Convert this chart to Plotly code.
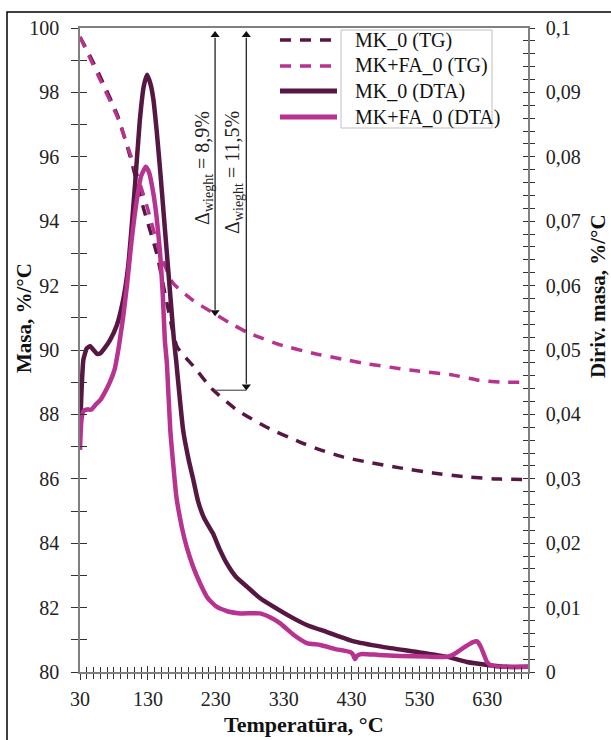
import plotly.graph_objects as go

# ---------------- data ----------------
temp_tg_mk0 = [30, 45, 60, 85, 104, 123, 143, 158, 173, 197, 225, 261, 305, 354, 384, 417, 453, 501, 550, 600, 649, 690]
tg_mk0 = [99.72, 99.12, 98.48, 97.3, 96.0, 94.44, 93.0, 91.46, 90.1, 89.5, 88.78, 88.14, 87.6, 87.14, 86.9, 86.68, 86.52, 86.34, 86.18, 86.06, 85.99, 85.98]

temp_tg_mkfa = [30, 45, 60, 85, 107, 129, 148, 167, 196, 226, 250, 276, 300, 325, 373, 423, 453, 516, 580, 615, 650, 690]
tg_mkfa = [99.72, 99.05, 98.38, 97.24, 95.9, 94.44, 93.0, 92.08, 91.55, 91.15, 90.85, 90.55, 90.35, 90.16, 89.9, 89.69, 89.57, 89.38, 89.22, 89.07, 89.0, 89.0]

temp_dta_mk0 = [30, 32, 35, 40, 45, 50, 55, 60, 66, 74, 84, 94, 101, 106, 111, 118, 124, 129, 134, 138, 143, 148, 153, 158,
                163, 168, 172, 177, 182, 190, 197, 204, 212, 219, 226, 236, 246, 260, 276, 295, 315, 340, 364, 394,
                432, 476, 527, 571, 600, 630, 659, 690]
dta_mk0 = [0.0375, 0.043, 0.0485, 0.05025, 0.0506, 0.05, 0.0494, 0.0495, 0.05025, 0.0515, 0.05375, 0.058, 0.063, 0.069,
           0.0755, 0.0855, 0.091, 0.09275, 0.09125, 0.089, 0.084, 0.078, 0.0715, 0.065, 0.0585, 0.052, 0.048, 0.0425,
           0.0375, 0.033, 0.0298, 0.0265, 0.0241, 0.02275, 0.0215, 0.019, 0.0169, 0.01475, 0.01325, 0.0115, 0.01015,
           0.0086, 0.0073, 0.0062, 0.0048, 0.0039, 0.0031, 0.00235, 0.00155, 0.0011, 0.0008, 0.0008]

temp_dta_mkfa = [30, 32, 35, 40, 47, 53, 60, 67, 74, 81, 86, 90, 94, 99, 106, 113, 120, 127, 132, 138, 143, 148, 152, 155,
                 158, 163, 168, 172, 180, 187, 197, 207, 218, 231, 248, 266, 295, 310, 325, 345, 364, 384, 405, 428, 432,
                 435, 438, 445, 470, 501, 540, 571, 581, 590, 600, 609, 615, 620, 625, 630, 638, 659, 690]
dta_mkfa = [0.0345, 0.039, 0.0405, 0.04075, 0.04075, 0.0415, 0.04225, 0.0435, 0.045, 0.047, 0.04975, 0.0525, 0.0555,
            0.05985, 0.067, 0.0728, 0.077, 0.07845, 0.0775, 0.07435, 0.0705, 0.065, 0.0585, 0.0515, 0.04795, 0.0376,
            0.0315, 0.0272, 0.0225, 0.01945, 0.01625, 0.01375, 0.0115, 0.01015, 0.0094, 0.0091, 0.0091, 0.0085,
            0.00755, 0.00575, 0.0045, 0.0042, 0.0036, 0.0031, 0.00275, 0.002, 0.0025, 0.0028, 0.00265, 0.0025, 0.0024,
            0.00235, 0.00275, 0.0034, 0.0041, 0.00465, 0.00475, 0.004, 0.00275, 0.0015, 0.00095, 0.0008, 0.0008]

series_names = ["MK_0 (TG)", "MK+FA_0 (TG)", "MK_0 (DTA)", "MK+FA_0 (DTA)"]
x_tick_vals = [30, 130, 230, 330, 430, 530, 630]
mass_loss_labels = ["8,9%", "11,5%"]
mass_loss_levels = [91.05, 88.75]
mass_loss_temps = [229, 275]
mass_start = 99.9

# ---------------- styling ----------------
DARK = "#561743"
PINK = "#B8328F"
FONT = "Liberation Serif"
AX = "#808080"
TK = "#333333"
DASH = "11px,9px"

W, H = 611, 740
L, R, T, B = 80, 83, 28, 68
PW, PH = W - L - R, H - T - B


def px(xp):
    return (xp - L) / PW


def py(yp):
    return (H - B - yp) / PH


fig = go.Figure()
fig.add_trace(go.Scatter(x=temp_tg_mk0, y=tg_mk0, name=series_names[0], mode="lines",
                         line=dict(color=DARK, width=3.5, dash=DASH, shape="spline", smoothing=0.5),
                         xaxis="x", yaxis="y"))
fig.add_trace(go.Scatter(x=temp_tg_mkfa, y=tg_mkfa, name=series_names[1], mode="lines",
                         line=dict(color=PINK, width=3.5, dash=DASH, shape="spline", smoothing=0.5),
                         xaxis="x", yaxis="y"))
fig.add_trace(go.Scatter(x=temp_dta_mk0, y=dta_mk0, name=series_names[2], mode="lines",
                         line=dict(color=DARK, width=4.5, shape="spline", smoothing=0.5),
                         xaxis="x", yaxis="y2"))
fig.add_trace(go.Scatter(x=temp_dta_mkfa, y=dta_mkfa, name=series_names[3], mode="lines",
                         line=dict(color=PINK, width=4.5, shape="spline", smoothing=0.5),
                         xaxis="x", yaxis="y2"))

# mass-loss double arrows: shaft as a line trace, heads as triangle markers
for tx, lvl in zip(mass_loss_temps, mass_loss_levels):
    fig.add_trace(go.Scatter(x=[tx, tx], y=[mass_start - 0.2, lvl + 0.2], mode="lines",
                             line=dict(color="#111", width=1.2), showlegend=False, hoverinfo="skip",
                             xaxis="x", yaxis="y"))
    fig.add_trace(go.Scatter(x=[tx, tx], y=[mass_start - 0.12, lvl + 0.12], mode="markers",
                             marker=dict(symbol=["triangle-up", "triangle-down"], size=8, color="#111",
                                         line=dict(width=0)),
                             showlegend=False, hoverinfo="skip", xaxis="x", yaxis="y"))

# empty helper traces so the inner-tick overlay axes are drawn
fig.add_trace(go.Scatter(x=[None], y=[None], xaxis="x2", yaxis="y3", showlegend=False, hoverinfo="skip"))
fig.add_trace(go.Scatter(x=[None], y=[None], xaxis="x", yaxis="y4", showlegend=False, hoverinfo="skip"))

tickfont = dict(family=FONT, size=20, color="#222")
xr = [30, 690]

fig.update_layout(
    width=W, height=H, autosize=False,
    margin=dict(l=L, r=R, t=T, b=B),
    paper_bgcolor="white", plot_bgcolor="white",
    font=dict(family=FONT, color="#111"),
    separators=", ",
    showlegend=False,
    xaxis=dict(range=xr, tickmode="array", tickvals=x_tick_vals, ticks="outside", ticklen=6, tickwidth=1,
               tickcolor=TK, minor=dict(ticks="outside", ticklen=5, tickwidth=1, tickcolor=TK, tick0=30, dtick=10),
               showline=True, linecolor=AX, linewidth=1.5, mirror=True, showgrid=False, zeroline=False,
               tickfont=tickfont, ticklabelstandoff=2),
    xaxis2=dict(range=xr, overlaying="x", side="bottom", anchor="y", ticks="inside", ticklen=6, tickwidth=1,
                tickcolor=TK, tickmode="array", tickvals=x_tick_vals,
                minor=dict(ticks="inside", ticklen=5, tickwidth=1, tickcolor=TK, tick0=30, dtick=10),
                showticklabels=False, showline=False, showgrid=False, zeroline=False),
    yaxis=dict(range=[80, 100], tick0=80, dtick=2, ticks="outside", ticklen=7, tickwidth=1, tickcolor=TK,
               minor=dict(ticks="outside", ticklen=7, tickwidth=1, tickcolor=TK, dtick=1),
               showline=True, linecolor=AX, linewidth=1.5, showgrid=False, zeroline=False,
               tickfont=tickfont, ticklabelstandoff=8),
    yaxis3=dict(range=[80, 100], overlaying="y", side="left", anchor="x", tick0=80, dtick=2, ticks="inside",
                ticklen=7, tickwidth=1, tickcolor=TK,
                minor=dict(ticks="inside", ticklen=7, tickwidth=1, tickcolor=TK, dtick=1),
                showticklabels=False, showline=False, showgrid=False, zeroline=False),
    yaxis2=dict(range=[0, 0.1], overlaying="y", side="right", anchor="x", tick0=0, dtick=0.01, ticks="outside",
                ticklen=5, tickwidth=1, tickcolor=TK,
                minor=dict(ticks="outside", ticklen=5, tickwidth=1, tickcolor=TK, dtick=0.002),
                showline=True, linecolor=AX, linewidth=1.5, showgrid=False, zeroline=False,
                tickfont=tickfont, ticklabelstandoff=7),
    yaxis4=dict(range=[0, 0.1], overlaying="y", side="right", anchor="x", tick0=0, dtick=0.01, ticks="inside",
                ticklen=5, tickwidth=1, tickcolor=TK,
                minor=dict(ticks="inside", ticklen=5, tickwidth=1, tickcolor=TK, dtick=0.002),
                showticklabels=False, showline=False, showgrid=False, zeroline=False),
)

annotations = []
shapes = []

# axis titles
annotations.append(dict(text="<b>Masa, %/°C</b>", xref="paper", yref="paper", x=px(24), y=py(318),
                        xanchor="center", yanchor="middle",
                        textangle=-90, showarrow=False, font=dict(family=FONT, size=21, color="#111")))
annotations.append(dict(text="<b>Diriv. masa, %/°C</b>", xref="paper", yref="paper", x=px(598), y=py(296),
                        xanchor="center", yanchor="middle",
                        textangle=-90, showarrow=False, font=dict(family=FONT, size=21, color="#111")))
annotations.append(dict(text="<b>Temperatūra, °C</b>", xref="paper", yref="paper", x=0.5, y=py(724),
                        xanchor="center", yanchor="middle",
                        showarrow=False, font=dict(family=FONT, size=22, color="#111")))

# mass-loss leader line and labels
shapes.append(dict(type="line", xref="x", yref="y", x0=mass_loss_temps[0], x1=mass_loss_temps[1],
                   y0=mass_loss_levels[1], y1=mass_loss_levels[1], line=dict(color="#555", width=1.2)))
text_pos = [(211, 95.65), (257, 95.5)]
for (tx, ty), lab in zip(text_pos, mass_loss_labels):
    annotations.append(dict(text="Δ<sub>wieght</sub> = " + lab, x=tx, y=ty, xref="x", yref="y",
                            xanchor="center", yanchor="middle",
                            textangle=-90, showarrow=False, font=dict(family=FONT, size=20, color="#222")))

# legend (drawn manually to match the original layout: samples sit outside the box)
leg_rows = [40, 66, 91, 117]
leg_styles = [(DARK, 3.5, DASH), (PINK, 3.5, DASH), (DARK, 5, "solid"), (PINK, 5, "solid")]
shapes.append(dict(type="rect", xref="paper", yref="paper", x0=px(341), x1=px(492), y0=py(128), y1=py(30),
                   line=dict(color="#c0c0c0", width=1), fillcolor="rgba(255,255,255,0)"))
for row, (col, wd, ds), name in zip(leg_rows, leg_styles, series_names):
    shapes.append(dict(type="line", xref="paper", yref="paper", x0=px(280), x1=px(337), y0=py(row), y1=py(row),
                       line=dict(color=col, width=wd, dash=ds)))
    annotations.append(dict(text=name, xref="paper", yref="paper", x=px(353), y=py(row), xanchor="left",
                            yanchor="middle", showarrow=False, font=dict(family=FONT, size=20, color="#111")))

# outer frame
shapes.append(dict(type="rect", xref="paper", yref="paper", x0=px(7), x1=px(640), y0=py(760), y1=py(12),
                   line=dict(color="#000", width=1.5)))

fig.update_layout(annotations=annotations, shapes=shapes)
fig.write_html("out.html")
